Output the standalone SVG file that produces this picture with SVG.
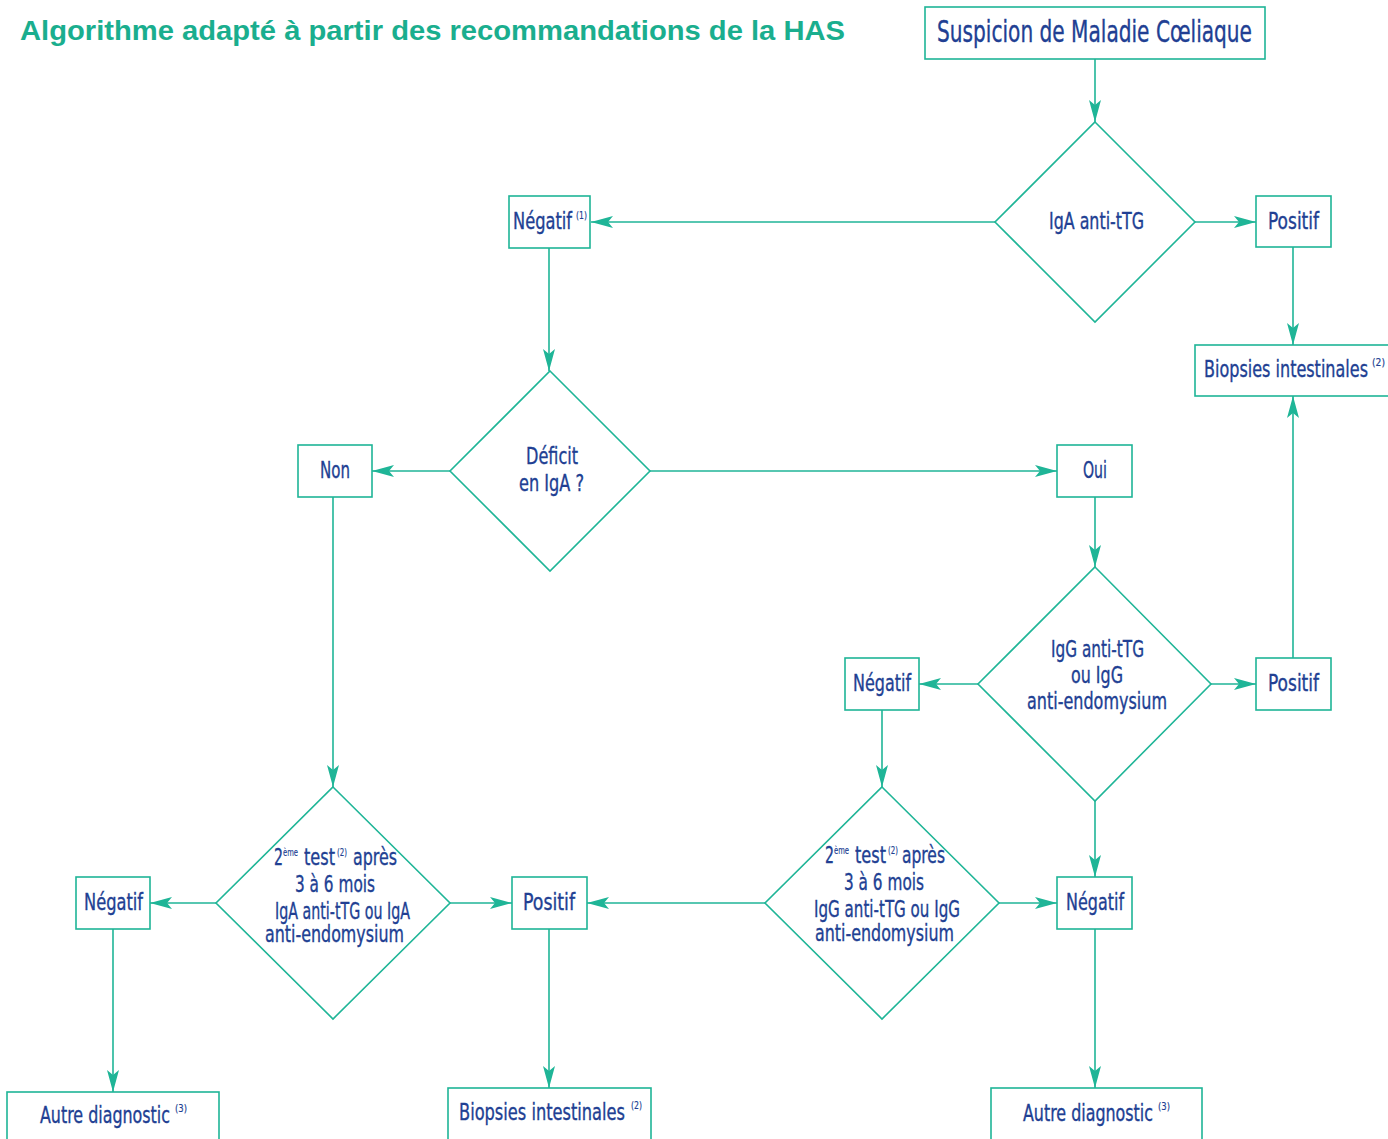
<svg xmlns="http://www.w3.org/2000/svg" width="1388" height="1139" viewBox="0 0 1388 1139">
<defs>
<style>
.box{fill:#fff;stroke:#1fb597;stroke-width:1.6}
.dia{fill:#fff;stroke:#1fb597;stroke-width:1.6}
.con{stroke:#1fb597;stroke-width:1.6;fill:none;marker-end:url(#ah)}
.t{font-family:"Liberation Sans Narrow","DejaVu Sans Condensed","Liberation Sans",sans-serif;font-size:23px;fill:#213f93;stroke:#213f93;stroke-width:0.35}
.s{font-size:10px;stroke-width:0.15}
.title{font-family:"Liberation Sans","DejaVu Sans",sans-serif;font-weight:bold;font-size:28px;fill:#1aae8e}
</style>
<marker id="ah" markerUnits="userSpaceOnUse" markerWidth="22" markerHeight="12" refX="22" refY="6" orient="auto">
<path d="M0,0 L22,6 L0,12 L5,6 z" fill="#1fb597"/>
</marker>
</defs>
<rect width="1388" height="1139" fill="#fff"/>
<text class="title" x="20" y="40" textLength="825" lengthAdjust="spacingAndGlyphs">Algorithme adapté à partir des recommandations de la HAS</text>

<g id="connectors">
<line class="con" x1="1095" y1="59" x2="1095" y2="122"/>
<line class="con" x1="995" y1="222" x2="591" y2="222"/>
<line class="con" x1="1195" y1="222" x2="1256" y2="222"/>
<line class="con" x1="1293" y1="247" x2="1293" y2="345"/>
<line class="con" x1="549" y1="248" x2="549" y2="371"/>
<line class="con" x1="450" y1="471" x2="372" y2="471"/>
<line class="con" x1="650" y1="471" x2="1057" y2="471"/>
<line class="con" x1="1095" y1="497" x2="1095" y2="567"/>
<line class="con" x1="978" y1="684" x2="919" y2="684"/>
<line class="con" x1="1211" y1="684" x2="1256" y2="684"/>
<line class="con" x1="1293" y1="658" x2="1293" y2="396"/>
<line class="con" x1="1095" y1="801" x2="1095" y2="877"/>
<line class="con" x1="882" y1="710" x2="882" y2="787"/>
<line class="con" x1="333" y1="497" x2="333" y2="787"/>
<line class="con" x1="216" y1="903" x2="150" y2="903"/>
<line class="con" x1="450" y1="903" x2="512" y2="903"/>
<line class="con" x1="765" y1="903" x2="587" y2="903"/>
<line class="con" x1="999" y1="903" x2="1057" y2="903"/>
<line class="con" x1="113" y1="929" x2="113" y2="1092"/>
<line class="con" x1="549" y1="929" x2="549" y2="1088"/>
<line class="con" x1="1095" y1="929" x2="1095" y2="1088"/>
</g>

<g id="n-suspicion">
<rect class="box" x="925" y="7" width="340" height="52"/>
<text class="t" x="937" y="42" style="font-size:30px" textLength="315" lengthAdjust="spacingAndGlyphs">Suspicion de Maladie Cœliaque</text>
</g>

<g id="n-iga-ttg">
<polygon class="dia" points="1095,122 1195,222 1095,322 995,222"/>
<text class="t" x="1049" y="229" textLength="95" lengthAdjust="spacingAndGlyphs">IgA anti-tTG</text>
</g>

<g id="n-negatif1">
<rect class="box" x="509" y="196" width="81" height="52"/>
<text class="t" x="513" y="229"><tspan textLength="59" lengthAdjust="spacingAndGlyphs">Négatif</tspan><tspan class="s" x="576" y="219" textLength="11" lengthAdjust="spacingAndGlyphs">(1)</tspan></text>
</g>

<g id="n-positif1">
<rect class="box" x="1256" y="196" width="75" height="51"/>
<text class="t" x="1268" y="229" textLength="51" lengthAdjust="spacingAndGlyphs">Positif</text>
</g>

<g id="n-biopsies1">
<rect class="box" x="1195" y="345" width="200" height="51"/>
<text class="t" x="1204" y="377"><tspan textLength="164" lengthAdjust="spacingAndGlyphs">Biopsies intestinales</tspan><tspan class="s" x="1372" y="366" textLength="13" lengthAdjust="spacingAndGlyphs">(2)</tspan></text>
</g>

<g id="n-deficit">
<polygon class="dia" points="550,371 650,471 550,571 450,471"/>
<text class="t" x="526" y="464" textLength="52" lengthAdjust="spacingAndGlyphs">Déficit</text>
<text class="t" x="519" y="491" textLength="65" lengthAdjust="spacingAndGlyphs">en IgA ?</text>
</g>

<g id="n-non">
<rect class="box" x="298" y="445" width="74" height="52"/>
<text class="t" x="320" y="478" textLength="30" lengthAdjust="spacingAndGlyphs">Non</text>
</g>

<g id="n-oui">
<rect class="box" x="1057" y="445" width="75" height="52"/>
<text class="t" x="1083" y="478" textLength="24" lengthAdjust="spacingAndGlyphs">Oui</text>
</g>

<g id="n-igg-ttg">
<polygon class="dia" points="1095,567 1211,684 1095,801 978,684"/>
<text class="t" x="1051" y="657" textLength="93" lengthAdjust="spacingAndGlyphs">IgG anti-tTG</text>
<text class="t" x="1071" y="683" textLength="52" lengthAdjust="spacingAndGlyphs">ou IgG</text>
<text class="t" x="1027" y="709" textLength="140" lengthAdjust="spacingAndGlyphs">anti-endomysium</text>
</g>

<g id="n-negatif2">
<rect class="box" x="845" y="658" width="74" height="52"/>
<text class="t" x="853" y="691" textLength="58" lengthAdjust="spacingAndGlyphs">Négatif</text>
</g>

<g id="n-positif2">
<rect class="box" x="1256" y="658" width="75" height="52"/>
<text class="t" x="1268" y="691" textLength="51" lengthAdjust="spacingAndGlyphs">Positif</text>
</g>

<g id="n-test-iga">
<polygon class="dia" points="333,787 450,903 333,1019 216,903"/>
<text class="t" x="274" y="865"><tspan textLength="9" lengthAdjust="spacingAndGlyphs">2</tspan><tspan class="s" x="283" y="856" textLength="15" lengthAdjust="spacingAndGlyphs">ème</tspan><tspan x="304" y="865" textLength="31" lengthAdjust="spacingAndGlyphs">test</tspan><tspan class="s" x="337" y="856" textLength="10" lengthAdjust="spacingAndGlyphs">(2)</tspan><tspan x="353" y="865" textLength="44" lengthAdjust="spacingAndGlyphs">après</tspan></text>
<text class="t" x="295" y="892" textLength="80" lengthAdjust="spacingAndGlyphs">3 à 6 mois</text>
<text class="t" x="275" y="919" textLength="135" lengthAdjust="spacingAndGlyphs">IgA anti-tTG ou IgA</text>
<text class="t" x="265" y="942" textLength="139" lengthAdjust="spacingAndGlyphs">anti-endomysium</text>
</g>

<g id="n-negatif3">
<rect class="box" x="76" y="877" width="74" height="52"/>
<text class="t" x="84" y="910" textLength="59" lengthAdjust="spacingAndGlyphs">Négatif</text>
</g>

<g id="n-positif3">
<rect class="box" x="512" y="877" width="75" height="52"/>
<text class="t" x="523" y="910" textLength="52" lengthAdjust="spacingAndGlyphs">Positif</text>
</g>

<g id="n-test-igg">
<polygon class="dia" points="882,787 999,903 882,1019 765,903"/>
<text class="t" x="825" y="863"><tspan textLength="9" lengthAdjust="spacingAndGlyphs">2</tspan><tspan class="s" x="834" y="854" textLength="15" lengthAdjust="spacingAndGlyphs">ème</tspan><tspan x="855" y="863" textLength="31" lengthAdjust="spacingAndGlyphs">test</tspan><tspan class="s" x="888" y="854" textLength="10" lengthAdjust="spacingAndGlyphs">(2)</tspan><tspan x="902" y="863" textLength="43" lengthAdjust="spacingAndGlyphs">après</tspan></text>
<text class="t" x="844" y="890" textLength="80" lengthAdjust="spacingAndGlyphs">3 à 6 mois</text>
<text class="t" x="814" y="917" textLength="146" lengthAdjust="spacingAndGlyphs">IgG anti-tTG ou IgG</text>
<text class="t" x="815" y="941" textLength="139" lengthAdjust="spacingAndGlyphs">anti-endomysium</text>
</g>

<g id="n-negatif4">
<rect class="box" x="1057" y="877" width="75" height="52"/>
<text class="t" x="1066" y="910" textLength="58" lengthAdjust="spacingAndGlyphs">Négatif</text>
</g>

<g id="n-autre1">
<rect class="box" x="7" y="1092" width="212" height="60"/>
<text class="t" x="40" y="1123"><tspan textLength="130" lengthAdjust="spacingAndGlyphs">Autre diagnostic</tspan><tspan class="s" x="175" y="1112" textLength="12" lengthAdjust="spacingAndGlyphs">(3)</tspan></text>
</g>

<g id="n-biopsies2">
<rect class="box" x="448" y="1088" width="203" height="60"/>
<text class="t" x="459" y="1120"><tspan textLength="166" lengthAdjust="spacingAndGlyphs">Biopsies intestinales</tspan><tspan class="s" x="631" y="1109" textLength="11" lengthAdjust="spacingAndGlyphs">(2)</tspan></text>
</g>

<g id="n-autre2">
<rect class="box" x="991" y="1088" width="211" height="60"/>
<text class="t" x="1023" y="1121"><tspan textLength="130" lengthAdjust="spacingAndGlyphs">Autre diagnostic</tspan><tspan class="s" x="1158" y="1110" textLength="12" lengthAdjust="spacingAndGlyphs">(3)</tspan></text>
</g>
</svg>
